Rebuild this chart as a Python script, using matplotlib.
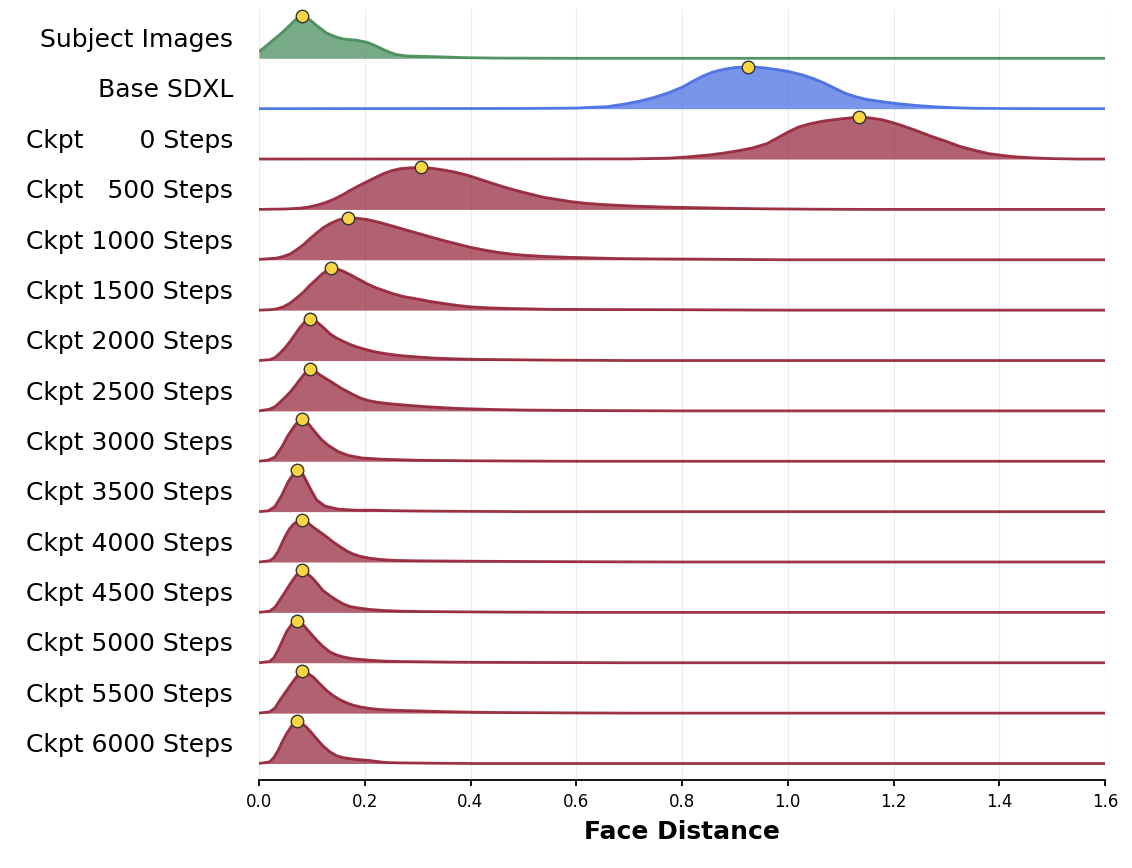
import matplotlib
matplotlib.use("Agg")
import matplotlib.pyplot as plt

# ---- data (normalized density profiles) ----
labels = ["Subject Images", "Base SDXL",
          "Ckpt       0 Steps", "Ckpt   500 Steps", "Ckpt 1000 Steps",
          "Ckpt 1500 Steps", "Ckpt 2000 Steps", "Ckpt 2500 Steps",
          "Ckpt 3000 Steps", "Ckpt 3500 Steps", "Ckpt 4000 Steps",
          "Ckpt 4500 Steps", "Ckpt 5000 Steps", "Ckpt 5500 Steps",
          "Ckpt 6000 Steps"]

x_subject = [0, 0.01, 0.021, 0.033, 0.046, 0.056, 0.07, 0.0807, 0.09, 0.1, 0.109, 0.128, 0.147, 0.16, 0.185, 0.205, 0.222, 0.235, 0.248, 0.26, 0.28, 0.33, 0.39, 0.45, 0.6, 1.6]
h_subject = [0.16, 0.26, 0.375, 0.50, 0.64, 0.76, 0.93, 1.0, 0.97, 0.88, 0.78, 0.60, 0.50, 0.46, 0.43, 0.38, 0.29, 0.21, 0.14, 0.09, 0.055, 0.04, 0.015, 0.005, 0, 0]

x_base = [0, 0.5, 0.6, 0.66, 0.691, 0.72, 0.745, 0.775, 0.80, 0.82, 0.84, 0.86, 0.88, 0.90, 0.925, 0.95, 0.975, 1.0, 1.029, 1.05, 1.069, 1.09, 1.110, 1.13, 1.150, 1.18, 1.204, 1.24, 1.272, 1.31, 1.353, 1.42, 1.5, 1.6]
h_base = [0, 0.005, 0.015, 0.05, 0.11, 0.18, 0.26, 0.38, 0.51, 0.65, 0.78, 0.88, 0.94, 0.98, 1.0, 0.98, 0.94, 0.89, 0.80, 0.71, 0.61, 0.48, 0.36, 0.28, 0.22, 0.165, 0.125, 0.08, 0.05, 0.025, 0.01, 0.003, 0, 0]

x_c0 = [0, 0.70, 0.772, 0.81, 0.853, 0.88, 0.907, 0.935, 0.961, 0.98, 1.0, 1.02, 1.042, 1.065, 1.089, 1.11, 1.134, 1.155, 1.177, 1.198, 1.218, 1.245, 1.272, 1.3, 1.326, 1.353, 1.380, 1.41, 1.434, 1.47, 1.502, 1.55, 1.6]
h_c0 = [0, 0.003, 0.02, 0.05, 0.10, 0.145, 0.20, 0.27, 0.37, 0.50, 0.64, 0.76, 0.84, 0.90, 0.94, 0.97, 1.0, 0.98, 0.94, 0.87, 0.79, 0.67, 0.54, 0.42, 0.30, 0.21, 0.13, 0.08, 0.05, 0.025, 0.01, 0, 0]

x_c500 = [0, 0.05, 0.0775, 0.095, 0.109, 0.125, 0.141, 0.157, 0.172, 0.188, 0.204, 0.22, 0.235, 0.25, 0.267, 0.285, 0.306, 0.327, 0.349, 0.37, 0.393, 0.415, 0.437, 0.462, 0.487, 0.512, 0.538, 0.563, 0.588, 0.615, 0.645, 0.675, 0.708, 0.77, 0.834, 0.9, 0.95, 1.05, 1.15, 1.6]
h_c500 = [0, 0.01, 0.03, 0.06, 0.10, 0.16, 0.24, 0.34, 0.45, 0.56, 0.66, 0.76, 0.85, 0.92, 0.97, 0.99, 1.0, 0.98, 0.94, 0.89, 0.82, 0.73, 0.64, 0.54, 0.45, 0.37, 0.29, 0.24, 0.19, 0.15, 0.12, 0.10, 0.08, 0.055, 0.04, 0.025, 0.015, 0.005, 0, 0]

x_c1000 = [0, 0.033, 0.046, 0.059, 0.071, 0.084, 0.096, 0.109, 0.121, 0.134, 0.15, 0.169, 0.185, 0.204, 0.225, 0.248, 0.273, 0.298, 0.323, 0.349, 0.374, 0.399, 0.425, 0.450, 0.475, 0.5, 0.54, 0.582, 0.63, 0.676, 0.75, 0.834, 0.92, 1.0, 1.6]
h_c1000 = [0.01, 0.04, 0.08, 0.14, 0.24, 0.36, 0.50, 0.64, 0.76, 0.86, 0.95, 1.0, 0.99, 0.96, 0.90, 0.82, 0.73, 0.64, 0.55, 0.46, 0.38, 0.30, 0.235, 0.18, 0.14, 0.11, 0.08, 0.06, 0.045, 0.03, 0.02, 0.015, 0.007, 0, 0]

x_c1500 = [0, 0.02, 0.033, 0.046, 0.059, 0.071, 0.084, 0.096, 0.109, 0.12, 0.128, 0.137, 0.148, 0.159, 0.175, 0.191, 0.206, 0.222, 0.238, 0.254, 0.275, 0.298, 0.323, 0.349, 0.374, 0.399, 0.435, 0.474, 0.55, 0.65, 0.8, 0.9, 1.0, 1.6]
h_c1500 = [0, 0.01, 0.03, 0.08, 0.17, 0.29, 0.43, 0.59, 0.74, 0.87, 0.94, 1.0, 0.98, 0.93, 0.83, 0.72, 0.62, 0.53, 0.46, 0.39, 0.32, 0.27, 0.21, 0.16, 0.115, 0.08, 0.055, 0.04, 0.02, 0.015, 0.01, 0.005, 0, 0]

x_c2000 = [0, 0.02, 0.03, 0.039, 0.049, 0.059, 0.068, 0.077, 0.087, 0.0965, 0.106, 0.115, 0.125, 0.134, 0.146, 0.159, 0.171, 0.184, 0.2, 0.222, 0.244, 0.266, 0.3, 0.329, 0.37, 0.424, 0.55, 0.7, 1.6]
h_c2000 = [0, 0.02, 0.07, 0.17, 0.30, 0.46, 0.62, 0.78, 0.93, 1.0, 0.96, 0.86, 0.75, 0.64, 0.54, 0.46, 0.39, 0.33, 0.27, 0.20, 0.155, 0.12, 0.085, 0.06, 0.04, 0.025, 0.01, 0, 0]

x_c2500 = [0, 0.02, 0.03, 0.039, 0.049, 0.059, 0.068, 0.077, 0.087, 0.0965, 0.106, 0.115, 0.128, 0.141, 0.153, 0.166, 0.178, 0.191, 0.206, 0.222, 0.244, 0.266, 0.29, 0.317, 0.345, 0.374, 0.41, 0.455, 0.5, 0.55, 0.65, 0.8, 1.6]
h_c2500 = [0, 0.04, 0.10, 0.20, 0.32, 0.45, 0.59, 0.74, 0.90, 1.0, 0.95, 0.86, 0.76, 0.66, 0.56, 0.47, 0.39, 0.31, 0.25, 0.21, 0.175, 0.15, 0.125, 0.10, 0.08, 0.06, 0.045, 0.03, 0.02, 0.015, 0.007, 0, 0]

x_c3000 = [0, 0.0176, 0.030, 0.043, 0.055, 0.068, 0.075, 0.0807, 0.087, 0.093, 0.106, 0.118, 0.131, 0.150, 0.169, 0.194, 0.232, 0.295, 0.392, 0.5, 0.6, 1.6]
h_c3000 = [0, 0.03, 0.10, 0.34, 0.62, 0.86, 0.96, 1.0, 0.97, 0.90, 0.70, 0.52, 0.38, 0.23, 0.14, 0.08, 0.05, 0.025, 0.012, 0.005, 0, 0]

x_c3500 = [0, 0.0176, 0.030, 0.043, 0.055, 0.065, 0.0725, 0.078, 0.084, 0.097, 0.109, 0.125, 0.150, 0.182, 0.215, 0.245, 0.3, 0.36, 0.5, 1.6]
h_c3500 = [0, 0.02, 0.12, 0.39, 0.71, 0.90, 1.0, 0.97, 0.87, 0.55, 0.28, 0.13, 0.06, 0.035, 0.035, 0.025, 0.015, 0.01, 0, 0]

x_c4000 = [0, 0.02, 0.028, 0.036, 0.049, 0.057, 0.065, 0.073, 0.0807, 0.091, 0.1025, 0.115, 0.128, 0.14, 0.153, 0.165, 0.178, 0.193, 0.21, 0.23, 0.254, 0.29, 0.329, 0.455, 0.6, 0.8, 1.6]
h_c4000 = [0, 0.03, 0.10, 0.25, 0.60, 0.78, 0.90, 0.97, 1.0, 0.95, 0.83, 0.72, 0.60, 0.48, 0.37, 0.27, 0.19, 0.13, 0.09, 0.06, 0.04, 0.03, 0.025, 0.015, 0.007, 0, 0]

x_c4500 = [0, 0.02, 0.03, 0.039, 0.049, 0.059, 0.07, 0.0807, 0.091, 0.1025, 0.112, 0.121, 0.134, 0.147, 0.16, 0.172, 0.19, 0.21, 0.235, 0.266, 0.31, 0.36, 0.45, 0.6, 1.6]
h_c4500 = [0, 0.03, 0.12, 0.29, 0.48, 0.68, 0.88, 1.0, 0.93, 0.80, 0.66, 0.52, 0.40, 0.29, 0.20, 0.14, 0.10, 0.07, 0.045, 0.03, 0.02, 0.015, 0.007, 0, 0]

x_c5000 = [0, 0.02, 0.028, 0.036, 0.044, 0.052, 0.062, 0.0725, 0.081, 0.0895, 0.099, 0.109, 0.121, 0.134, 0.146, 0.159, 0.175, 0.191, 0.21, 0.235, 0.265, 0.298, 0.36, 0.424, 0.55, 0.7, 1.6]
h_c5000 = [0, 0.03, 0.12, 0.30, 0.52, 0.74, 0.92, 1.0, 0.94, 0.82, 0.68, 0.54, 0.39, 0.26, 0.19, 0.14, 0.10, 0.08, 0.06, 0.04, 0.03, 0.025, 0.015, 0.01, 0.005, 0, 0]

x_c5500 = [0, 0.02, 0.03, 0.039, 0.049, 0.059, 0.07, 0.0807, 0.091, 0.1025, 0.115, 0.128, 0.14, 0.153, 0.165, 0.178, 0.193, 0.21, 0.23, 0.254, 0.28, 0.31, 0.35, 0.392, 0.45, 0.518, 0.6, 0.7, 1.6]
h_c5500 = [0, 0.03, 0.12, 0.30, 0.48, 0.66, 0.85, 1.0, 0.96, 0.86, 0.70, 0.54, 0.42, 0.32, 0.25, 0.19, 0.145, 0.11, 0.085, 0.07, 0.06, 0.05, 0.035, 0.025, 0.015, 0.01, 0.005, 0, 0]

x_c6000 = [0, 0.02, 0.028, 0.036, 0.044, 0.052, 0.062, 0.0725, 0.081, 0.0895, 0.099, 0.109, 0.121, 0.134, 0.146, 0.159, 0.175, 0.191, 0.21, 0.222, 0.235, 0.25, 0.266, 0.33, 0.4, 1.6]
h_c6000 = [0, 0.04, 0.14, 0.31, 0.52, 0.71, 0.90, 1.0, 0.96, 0.87, 0.74, 0.59, 0.42, 0.28, 0.19, 0.14, 0.11, 0.09, 0.07, 0.05, 0.03, 0.02, 0.015, 0.007, 0, 0]

xticks = [0.0, 0.2, 0.4, 0.6, 0.8, 1.0, 1.2, 1.4, 1.6]
xtick_labels = ["0.0", "0.2", "0.4", "0.6", "0.8", "1.0", "1.2", "1.4", "1.6"]

curves = [(x_subject, h_subject), (x_base, h_base), (x_c0, h_c0), (x_c500, h_c500),
          (x_c1000, h_c1000), (x_c1500, h_c1500), (x_c2000, h_c2000), (x_c2500, h_c2500),
          (x_c3000, h_c3000), (x_c3500, h_c3500), (x_c4000, h_c4000), (x_c4500, h_c4500),
          (x_c5000, h_c5000), (x_c5500, h_c5500), (x_c6000, h_c6000)]

GREEN = "#418755"
BLUE = "#4169E1"
RED = "#911E32"
colors = [GREEN, BLUE] + [RED] * 13

# ---- figure ----
W, H = 1132, 868
fig = plt.figure(figsize=(W / 100, H / 100), dpi=100)
ax_bottom_px, ax_top_px = 780, 9
ax = fig.add_axes([259 / W, 1 - ax_bottom_px / H, 846 / W, (ax_bottom_px - ax_top_px) / H])

n = len(curves)
row_px = 50.37
scale = 42 / row_px

for k, ((xs, hs), c, lab) in enumerate(zip(curves, colors, labels)):
    base = n - 1 - k
    ys = [base + scale * h for h in hs]
    ax.fill_between(xs, base, ys, color=c, alpha=0.7, lw=0, zorder=2)
    ax.plot(xs, ys, color=c, lw=2.0, zorder=3, solid_joinstyle="round",
            solid_capstyle="butt", alpha=0.9)
    i = max(range(len(hs)), key=lambda j: hs[j])
    ax.plot([xs[i]], [ys[i]], "o", ms=9, mfc="#F9D443", mec="#333333", mew=1.0,
            zorder=5, clip_on=False)
    ax.text(-0.049, base + 0.224, lab, ha="right", va="baseline", fontsize=18,
            clip_on=False)

ax.set_xlim(0, 1.6)
ax.set_ylim(-(ax_bottom_px - 763.5) / row_px, (n - 1) + (58.3 - ax_top_px) / row_px)
ax.set_xticks(xticks)
ax.set_xticklabels(xtick_labels, fontsize=12)
ax.set_yticks([])
for s in ["left", "top", "right"]:
    ax.spines[s].set_visible(False)
ax.spines["bottom"].set_linewidth(1.3)
ax.tick_params(axis="x", length=4.5, width=1.3, pad=5)
ax.set_axisbelow(True)
ax.grid(axis="x", color="#ececec", lw=0.8)
ax.set_xlabel("Face Distance", fontsize=18, fontweight="bold", labelpad=6)

fig.savefig("out.png", dpi=100)
